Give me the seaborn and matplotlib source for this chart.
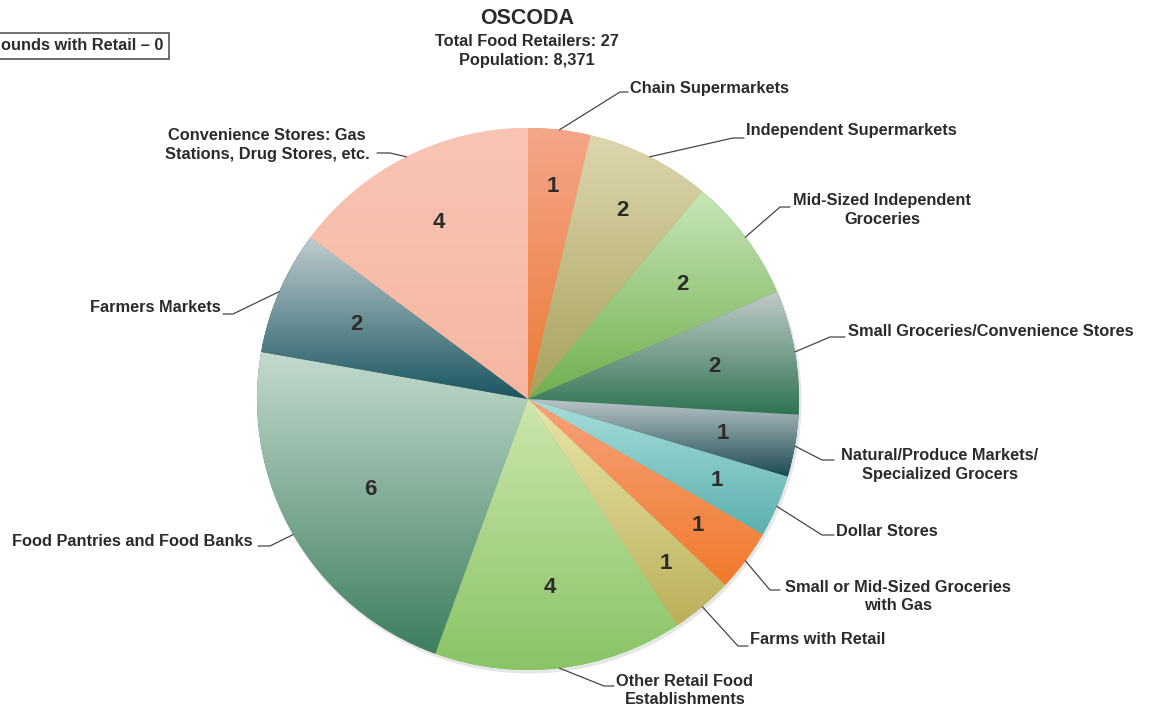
"""
Oscoda food retailers pie chart with per-slice vertical gradient fills.
"""
import numpy as np
import matplotlib
matplotlib.use("Agg")
import matplotlib.pyplot as plt
import seaborn as sns

sns.set_theme(style="white")
plt.rcParams["font.family"] = ["Liberation Sans", "DejaVu Sans"]

W, H = 1151, 706
INK = "#2f2a2a"

# ---- data ----
categories = [
    "Chain Supermarkets",
    "Independent Supermarkets",
    "Mid-Sized Independent\nGroceries",
    "Small Groceries/Convenience Stores",
    "Natural/Produce Markets/\nSpecialized Grocers",
    "Dollar Stores",
    "Small or Mid-Sized Groceries\nwith Gas",
    "Farms with Retail",
    "Other Retail Food\nEstablishments",
    "Food Pantries and Food Banks",
    "Farmers Markets",
    "Convenience Stores: Gas\nStations, Drug Stores, etc.",
]
counts = [1, 2, 2, 2, 1, 1, 1, 1, 4, 6, 2, 4]
total = sum(counts)
population = "8,371"

# gradient colours per slice (top, bottom)
grad_top = ["#F4A68A", "#DED7AE", "#C8E6B8", "#C2CCC8", "#B9C5C8", "#A8DEDB",
            "#F7A27C", "#E9E6A8", "#CDE6AD", "#C4DACE", "#C0CDD0", "#F8C5B4"]
grad_bot = ["#ED7A35", "#A7A05C", "#6FAF4E", "#2F7352", "#1B4A52", "#5AAFAE",
            "#F07A2A", "#BBB05A", "#88C466", "#3D7E5E", "#1A5560", "#F6B7A2"]

# ---- layout (pixel coords, y from top) ----
CX, CY, R = 528, 399, 271
num_r = [0.79, 0.78, 0.71, 0.70, 0.73, 0.76, 0.78, 0.79, 0.70, 0.67, 0.69, 0.73]
# (elbow x, elbow y, end x, text x, text y, ha)
leaders = [
    (620, 92, 628, 630, 88, "left"),
    (733, 138, 744, 746, 131, "left"),
    (780, 207, 790, 882, 210, "center"),
    (830, 337, 845, 848, 332, "left"),
    (822, 460, 834, 940, 465, "center"),
    (822, 535, 834, 836, 531, "left"),
    (770, 590, 780, 898, 597, "center"),
    (738, 646, 748, 750, 639, "left"),
    (604, 686, 614, 685, 690, "center"),
    (270, 546, 258, 253, 542, "right"),
    (233, 314, 223, 221, 307, "right"),
    (390, 153, 377, 267, 145, "center"),
]
LAB_FS = 11.8


def fy(y):
    return H - y


fig = plt.figure(figsize=(W / 100, H / 100), dpi=100)
ax = fig.add_axes([0, 0, 1, 1])

wedges, _ = ax.pie(counts, startangle=90, counterclock=False,
                   radius=R, center=(CX, fy(CY)),
                   wedgeprops=dict(linewidth=0, edgecolor="none"))

# faint shadow
ax.add_patch(plt.Circle((CX + 1.5, fy(CY) - 2.5), R + 1, color="#e6e6e6", zorder=0, lw=0))

for w, top, bot in zip(wedges, grad_top, grad_bot):
    w.set_facecolor(bot)
    ext = w.get_path().get_extents()
    cmap = sns.blend_palette([top, bot], as_cmap=True)
    grad = np.linspace(0, 1, 256).reshape(-1, 1)
    im = ax.imshow(grad, cmap=cmap, extent=[ext.x0, ext.x1, ext.y0, ext.y1],
                   origin="upper", aspect="auto", interpolation="bilinear", zorder=1.5)
    im.set_clip_path(w)

# slice numbers and leader labels
cum = np.cumsum([0] + counts)
for i, (n, lab) in enumerate(zip(counts, categories)):
    mid = np.deg2rad(90 - 360 * (cum[i] + n / 2) / total)
    nx = CX + num_r[i] * R * np.cos(mid)
    ny = fy(CY) + num_r[i] * R * np.sin(mid)
    ax.text(nx, ny, str(n), ha="center", va="center", fontsize=16,
            fontweight="bold", color=INK, zorder=3)

    ex, ey, endx, tx, ty, ha = leaders[i]
    axp = CX + R * np.cos(mid)
    ayp = fy(CY) + R * np.sin(mid)
    ax.plot([axp, ex, endx], [ayp, fy(ey), fy(ey)], color="#4a4545", lw=0.9, zorder=3)
    ax.text(tx, fy(ty), lab, ha=ha, va="center", multialignment="center",
            fontsize=LAB_FS, fontweight="bold", color=INK, linespacing=1.25)

# title block
ax.text(527, fy(19), "OSCODA", ha="center", va="center", fontsize=15.5,
        fontweight="bold", color=INK)
ax.text(527, fy(41), f"Total Food Retailers: {total}", ha="center", va="center",
        fontsize=LAB_FS, fontweight="bold", color=INK)
ax.text(527, fy(60), f"Population: {population}", ha="center", va="center",
        fontsize=LAB_FS, fontweight="bold", color=INK)

# partially clipped side box
ax.text(1, fy(46), "ounds with Retail \u2013 0", ha="left", va="center",
        fontsize=LAB_FS, fontweight="bold", color=INK,
        bbox=dict(boxstyle="square,pad=0.35", fc="white", ec="#555555", lw=1.2))

ax.set_xlim(0, W)
ax.set_ylim(0, H)
ax.set_aspect("auto")
ax.axis("off")

fig.savefig("out.png", dpi=100, facecolor="white")
